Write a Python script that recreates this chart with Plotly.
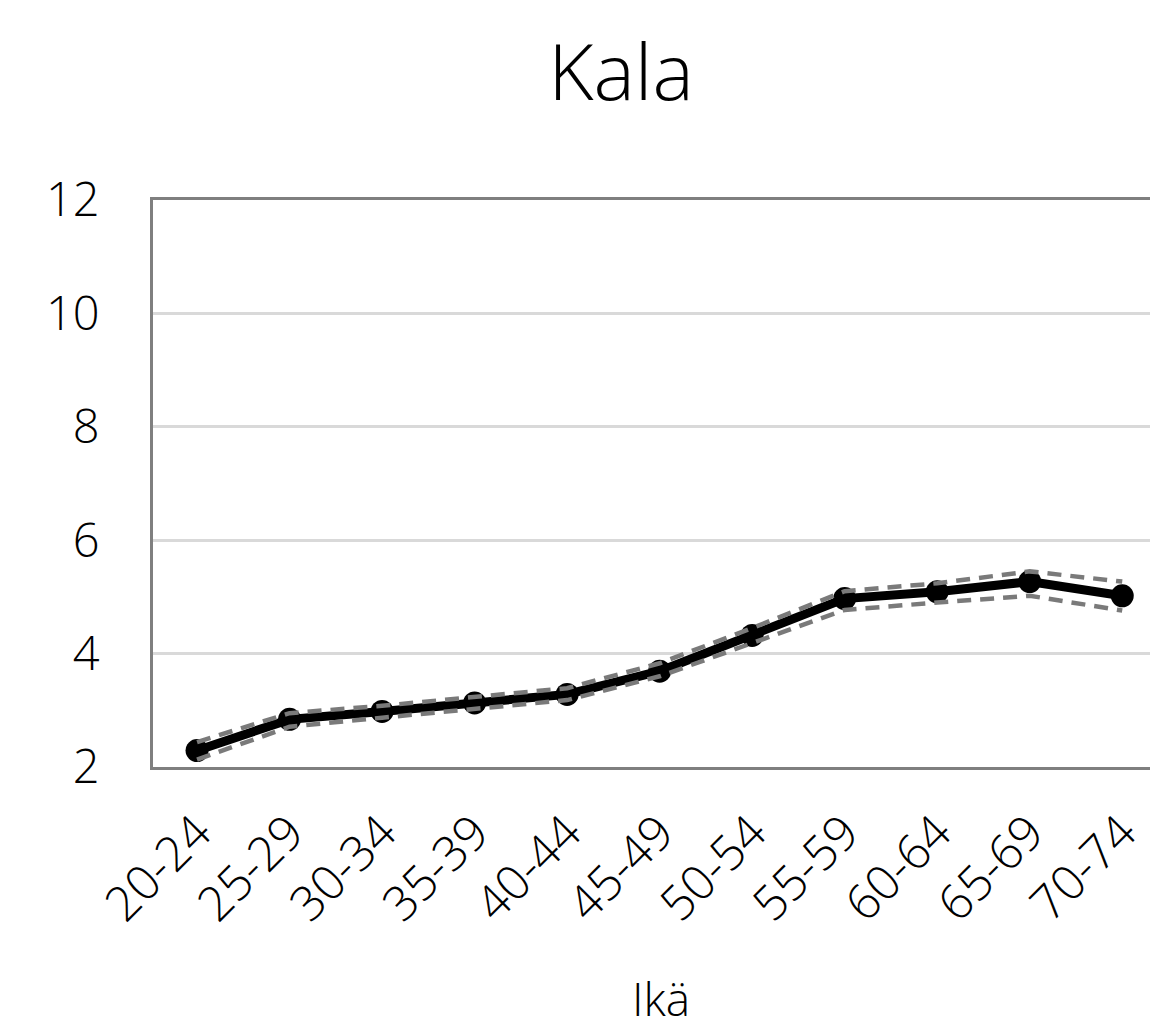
import plotly.graph_objects as go

categories = ["20-24", "25-29", "30-34", "35-39", "40-44", "45-49",
              "50-54", "55-59", "60-64", "65-69", "70-74"]
mean_vals = [2.29, 2.84, 2.98, 3.13, 3.28, 3.69, 4.32, 4.97, 5.09, 5.27, 5.02]
lower_vals = [2.13, 2.71, 2.87, 3.03, 3.18, 3.60, 4.19, 4.77, 4.90, 5.02, 4.76]
upper_vals = [2.44, 2.95, 3.08, 3.23, 3.39, 3.83, 4.45, 5.10, 5.24, 5.45, 5.27]
y_ticks = [2, 4, 6, 8, 10, 12]

FONT = "Open Sans"

fig = go.Figure()
fig.add_trace(go.Scatter(
    x=list(range(len(categories))), y=mean_vals, mode="lines+markers",
    line=dict(color="black", width=9),
    marker=dict(color="black", size=23),
    showlegend=False, hoverinfo="skip"))
for vals in (lower_vals, upper_vals):
    fig.add_trace(go.Scatter(
        x=list(range(len(categories))), y=vals, mode="lines",
        line=dict(color="#7a7a7a", width=4.5, dash="14px,9px"),
        showlegend=False, hoverinfo="skip"))

fig.update_layout(
    width=1150, height=1033,
    margin=dict(l=153, r=0, t=200, b=266),
    paper_bgcolor="white", plot_bgcolor="white",
    font=dict(family=FONT, color="black", weight=300),
    title=dict(text="Kala", x=621/1150, xanchor="center", xref="container",
               y=1 - 73/1033, yanchor="middle", yref="container",
               font=dict(size=78, family=FONT, color="black", weight=300)),
    annotations=[dict(text="Ikä", xref="paper", yref="paper",
                      x=(661 - 153) / (1150 - 153), y=-(998 - 767) / (767 - 200),
                      xanchor="center", yanchor="middle", showarrow=False,
                      font=dict(size=46, family=FONT, color="black", weight=300))],
)
fig.update_xaxes(
    tickmode="array", tickvals=list(range(len(categories))), ticktext=categories,
    range=[-0.476, 10.30],
    tickangle=-45, tickfont=dict(size=48, family=FONT, color="black", weight=300),
    ticklabeloverflow="allow",
    showline=True, linecolor="#7f7f7f", linewidth=3, mirror=True,
    showgrid=False, zeroline=False, ticks="", ticklabelstandoff=15,
)
fig.update_yaxes(
    range=[2, 12], tickmode="array", tickvals=y_ticks,
    tickfont=dict(size=47, family=FONT, color="black", weight=300),
    showline=True, linecolor="#7f7f7f", linewidth=3,
    showgrid=True, gridcolor="#d9d9d9", gridwidth=3, zeroline=False,
    ticks="", ticklabelstandoff=41,
)

fig.write_html("out.html", config={"displayModeBar": False},
               post_script="document.body.style.margin='0';")
